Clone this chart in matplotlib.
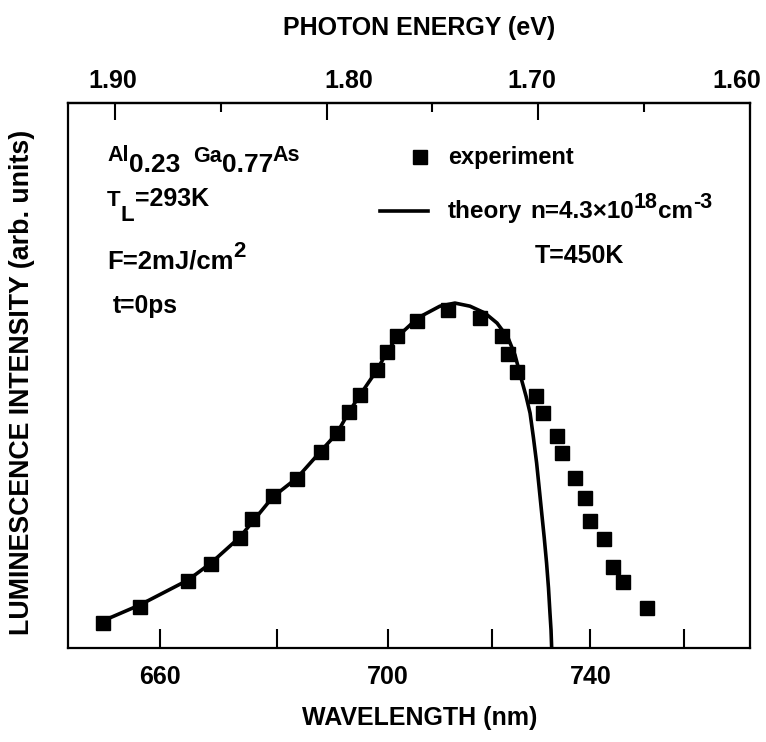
import matplotlib
matplotlib.use("Agg")
import matplotlib.pyplot as plt
from matplotlib.lines import Line2D
from matplotlib.transforms import ScaledTranslation

plt.rcParams["font.family"] = ["Liberation Sans", "DejaVu Sans"]
plt.rcParams["font.weight"] = "bold"

HC = 1239.84  # photon energy (eV) x wavelength (nm)

# Measured luminescence spectrum (photon energy in eV, intensity in arb. units)
exp_energy = [1.9058, 1.8882, 1.8657, 1.8546, 1.8409, 1.8354, 1.8252, 1.8140,
              1.8028, 1.7950, 1.7893, 1.7843, 1.7761, 1.7716, 1.7669, 1.7575,
              1.7425, 1.7276, 1.7173, 1.7142, 1.7099, 1.7009, 1.6979, 1.6910,
              1.6890, 1.6829, 1.6780, 1.6756, 1.6690, 1.6646, 1.6599, 1.6488]
exp_intensity = [0.072, 0.120, 0.195, 0.244, 0.319, 0.374, 0.441, 0.490,
                 0.569, 0.622, 0.685, 0.733, 0.806, 0.859, 0.904, 0.949,
                 0.980, 0.956, 0.904, 0.852, 0.801, 0.730, 0.682, 0.615,
                 0.564, 0.493, 0.434, 0.369, 0.315, 0.236, 0.192, 0.115]

# Calculated spectrum, n = 4.3e18 cm^-3, T = 450 K
theory_energy = [1.9071, 1.8882, 1.8655, 1.8547, 1.8409, 1.8254, 1.8140, 1.8027,
                 1.7951, 1.7895, 1.7843, 1.7762, 1.7715, 1.7668, 1.7569, 1.7465,
                 1.7394, 1.7323, 1.7252, 1.7195, 1.7143, 1.7110, 1.7079, 1.7058,
                 1.7039, 1.7023, 1.7008, 1.6996, 1.6984, 1.6972, 1.6961, 1.6952,
                 1.6945, 1.6940, 1.6937]
theory_intensity = [0.075, 0.125, 0.197, 0.246, 0.322, 0.438, 0.493, 0.571,
                    0.623, 0.684, 0.733, 0.806, 0.858, 0.901, 0.957, 0.991,
                    1.000, 0.991, 0.971, 0.942, 0.899, 0.849, 0.777, 0.730,
                    0.681, 0.609, 0.536, 0.464, 0.391, 0.319, 0.246, 0.174,
                    0.101, 0.052, 0.0]

wavelength_ticks = [660, 680, 700, 720, 740, 760]
wavelength_labels = ["660", "", "700", "", "740", ""]
energy_major = [1.90, 1.80, 1.70, 1.60]
energy_minor = [1.85, 1.75, 1.65]

W, H = 766, 742
fig = plt.figure(figsize=(W / 100, H / 100), dpi=100)
ax = fig.add_axes([68 / W, 1 - 648 / H, 682 / W, 545 / H])

ax.plot(theory_energy, theory_intensity, color="black", lw=2.6, zorder=2,
        solid_capstyle="butt", solid_joinstyle="round")
ax.plot(exp_energy, exp_intensity, ls="none", marker="s", ms=10.5,
        color="black", mec="black", zorder=3)

ax.set_xlim(1.9222, 1.60)
ax.set_ylim(0, 1.58)
ax.set_yticks([])

for sp in ax.spines.values():
    sp.set_linewidth(1.6)

# bottom axis: wavelength ticks placed at the corresponding photon energies
ax.set_xticks([HC / w for w in wavelength_ticks])
ax.set_xticklabels(wavelength_labels)
ax.tick_params(axis="x", which="major", direction="in", length=13.5, width=1.5,
               labelsize=18, pad=12)

# top axis: photon energy
top = ax.secondary_xaxis("top")
top.set_xticks(energy_major)
top.set_xticklabels([f"{e:.2f}" for e in energy_major])
top.set_xticks(energy_minor, minor=True)
top.tick_params(axis="x", which="major", direction="in", length=12, width=1.5,
                labelsize=18, pad=7)
top.tick_params(axis="x", which="minor", direction="in", length=6.5, width=1.5)
top.spines["top"].set_linewidth(1.6)
label_shift = {"1.90": -2, "1.80": 22, "1.70": -7, "1.60": -13}
for lab in top.get_xticklabels():
    dx = label_shift.get(lab.get_text(), 0)
    if dx:
        lab.set_transform(lab.get_transform()
                          + ScaledTranslation(dx / 100, 0, fig.dpi_scale_trans))

fig.text(419 / W, 1 - 28 / H, "PHOTON ENERGY (eV)", ha="center", va="center",
         fontsize=18)
fig.text(420 / W, 1 - 718 / H, "WAVELENGTH (nm)", ha="center", va="center",
         fontsize=18)
fig.text(22 / W, 1 - 382 / H, "LUMINESCENCE INTENSITY (arb. units)",
         ha="center", va="center", rotation=90, fontsize=19.3)

renderer = fig.canvas.get_renderer()


def text_runs(px, py, runs):
    """Write consecutive pieces of text on a common baseline (pixel coords,
    origin top-left); each piece is (text, fontsize, rise) or a gap in px."""
    x = px
    for item in runs:
        if isinstance(item, (int, float)):
            x += item
            continue
        s, size, rise = item
        t = fig.text(x / W, 1 - (py - rise) / H, s, fontsize=size,
                     ha="left", va="baseline")
        x += t.get_window_extent(renderer).width


text_runs(107, 161, [("Al", 15.5, 0), 1, ("0.23", 19, -11), 12,
                     ("Ga", 15.5, -1), ("0.77", 19, -11), ("As", 15.5, 0)])
text_runs(107, 206, [("T", 16, 0), ("L", 16, -15), 1, ("=293K", 18, 0)])
text_runs(107, 268, [("F=2mJ/cm", 18.5, 0), ("2", 16, 11)])
text_runs(113, 313, [("t=0ps", 17.7, 0)])

# legend
ax.add_line(Line2D([420 / W], [1 - 157 / H], transform=fig.transFigure,
                   marker="s", ms=10.5, color="black", ls="none"))
ax.add_line(Line2D([380 / W, 428 / W], [1 - 211 / H, 1 - 211 / H],
                   transform=fig.transFigure, color="black", lw=2.6))
text_runs(448, 164, [("experiment", 17, 0)])
text_runs(448, 218, [("theory", 17.5, 0), 8, ("n=4.3\u00d710", 17.5, 0),
                     ("18", 15.5, 10), ("cm", 17.5, 0), ("-3", 15.5, 10)])
text_runs(535, 263, [("T=450K", 18, 0)])

fig.savefig("out.png", dpi=100)
